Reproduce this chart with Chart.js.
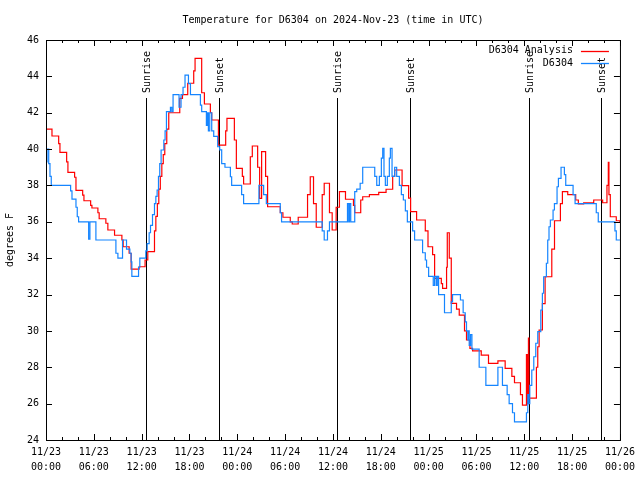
<!DOCTYPE html>
<html>
<head>
<meta charset="utf-8">
<script src="https://cdn.jsdelivr.net/npm/chart.js@4.4.0/dist/chart.umd.min.js"></script>
<style>
  html, body { margin: 0; padding: 0; background: #fff; }
</style>
</head>
<body>
<canvas id="tempChart" width="640" height="480"></canvas>
<script>
// hours since 11/23 00:00 UTC, temperature in F (values hold until the next point)
const analysisHours = [0, 0.75, 1.59, 1.75, 2.59, 2.75, 3.59, 3.76, 4.6, 4.76, 5.6, 5.76, 6.51, 6.67, 7.51, 7.76, 8.6, 9.52, 9.68, 10.43, 10.68, 11.68, 12.43, 12.77, 13.61, 13.78, 13.97, 14.15, 14.34, 14.53, 14.71, 14.9, 15.15, 15.4, 16.78, 17.12, 17.78, 18.53, 18.7, 19.53, 19.87, 20.62, 20.79, 21.63, 22.54, 22.7, 23.63, 23.88, 24.63, 24.79, 25.63, 25.88, 26.55, 26.8, 27.05, 27.55, 27.8, 29.39, 29.72, 30.64, 30.89, 31.64, 32.81, 33.15, 33.56, 33.9, 34.65, 34.9, 35.56, 35.9, 36.4, 36.81, 37.57, 38.57, 38.73, 39.48, 39.73, 40.57, 41.74, 42.66, 43.49, 43.74, 44.67, 45.49, 45.74, 46.49, 47.58, 47.92, 48.5, 48.75, 49.59, 49.75, 50.25, 50.34, 50.59, 50.84, 51.5, 51.84, 52.5, 52.75, 53.18, 53.51, 54.6, 55.51, 56.69, 57.6, 58.44, 58.77, 59.52, 59.77, 60.27, 60.33, 60.4, 60.46, 60.52, 60.58, 61.52, 61.69, 61.86, 62.27, 62.61, 63.45, 63.79, 64.53, 64.78, 65.45, 66.45, 66.78, 67.45, 68.71, 69.83, 70.37, 70.54, 70.62, 70.79, 71.54, 72];
const analysisTemps = [41.1, 40.72, 40.3, 39.82, 39.3, 38.72, 38.45, 37.73, 37.47, 37.16, 36.9, 36.76, 36.5, 36.17, 35.92, 35.55, 35.26, 35.0, 34.63, 34.27, 33.4, 33.53, 33.9, 34.36, 35.5, 36.3, 37.0, 37.8, 38.5, 39.2, 39.7, 40.3, 41.1, 42.0, 42.79, 43.0, 43.62, 44.3, 44.99, 43.1, 42.48, 42.0, 41.6, 40.22, 41.0, 41.69, 40.5, 38.94, 38.5, 38.08, 39.58, 40.17, 39.0, 37.29, 39.86, 38.5, 36.83, 36.5, 36.25, 36.0, 35.88, 36.25, 37.5, 38.48, 37.0, 35.7, 37.5, 38.12, 36.5, 35.55, 36.8, 37.66, 37.24, 36.9, 36.5, 37.2, 37.38, 37.5, 37.62, 37.79, 38.5, 38.85, 37.99, 37.3, 36.56, 36.1, 35.5, 34.63, 34.2, 32.89, 32.6, 32.34, 33.5, 35.4, 34.0, 31.51, 31.2, 30.87, 30.0, 29.5, 29.04, 28.9, 28.67, 28.21, 28.35, 27.94, 27.5, 27.15, 26.5, 25.92, 28.7, 26.0, 28.7, 26.0, 29.6, 26.3, 28.0, 29.13, 30.05, 31.5, 32.98, 34.5, 36.06, 37.0, 37.66, 37.5, 37.2, 36.98, 37.05, 37.2, 37.05, 38.0, 39.27, 37.5, 36.28, 36.06, 35.95];

const stationHours = [0, 0.13, 0.34, 0.5, 0.66, 3.09, 3.26, 3.76, 3.92, 4.09, 5.35, 5.51, 6.26, 8.77, 9.02, 9.6, 10.1, 10.52, 10.68, 10.77, 11.61, 11.77, 12.52, 12.69, 12.94, 13.11, 13.36, 13.61, 13.78, 13.94, 14.11, 14.27, 14.44, 14.78, 14.94, 15.11, 15.61, 15.78, 15.94, 16.69, 16.94, 17.19, 17.44, 17.87, 18.12, 19.37, 19.53, 20.12, 20.22, 20.37, 20.54, 20.79, 21.04, 21.54, 21.79, 22.04, 22.45, 23.13, 23.29, 24.54, 24.79, 26.71, 27.3, 27.64, 29.39, 29.55, 34.65, 34.9, 35.31, 35.56, 37.82, 37.98, 38.07, 38.23, 38.73, 38.98, 39.41, 39.73, 41.24, 41.49, 41.82, 42.07, 42.24, 42.4, 42.57, 42.82, 43.07, 43.2, 43.41, 43.74, 43.99, 44.33, 44.58, 44.83, 45.08, 45.33, 45.99, 46.24, 47.24, 47.58, 47.74, 48.0, 48.58, 48.75, 48.96, 49.09, 49.25, 49.99, 50.84, 51.0, 51.99, 52.33, 52.59, 52.75, 52.92, 53.0, 53.09, 53.26, 53.43, 54.34, 55.18, 56.69, 57.26, 57.85, 58.1, 58.52, 58.77, 60.27, 60.44, 60.52, 60.69, 60.94, 61.19, 61.44, 61.69, 62.07, 62.27, 62.43, 62.77, 62.94, 63.1, 63.27, 63.61, 63.78, 64.11, 64.28, 64.61, 65.03, 65.2, 66.12, 66.37, 69.03, 69.28, 71.37, 71.54, 72];
const stationTemps = [39.3, 40.0, 39.2, 38.5, 38.0, 37.7, 37.25, 36.8, 36.28, 36.0, 35.05, 36.0, 35.0, 34.27, 34.0, 35.0, 34.5, 34.27, 33.8, 33.0, 33.5, 34.0, 34.4, 34.8, 35.4, 35.8, 36.4, 37.0, 37.4, 37.75, 38.5, 39.2, 39.95, 40.5, 41.0, 42.06, 42.3, 42.06, 43.0, 42.3, 43.0, 43.4, 44.07, 43.6, 43.0, 42.42, 42.06, 41.3, 42.0, 41.0, 42.0, 41.0, 40.7, 40.13, 39.96, 39.2, 39.0, 38.48, 38.0, 37.5, 37.0, 38.0, 37.5, 37.0, 36.5, 36.0, 35.5, 35.0, 35.5, 36.0, 37.0, 36.0, 37.0, 36.0, 37.66, 37.8, 38.12, 39.0, 38.5, 38.0, 38.5, 39.5, 40.04, 38.5, 38.0, 38.5, 39.5, 40.04, 38.5, 39.0, 38.5, 38.0, 37.5, 37.2, 36.6, 36.0, 35.5, 35.0, 34.3, 33.9, 33.5, 33.0, 32.5, 33.0, 32.5, 33.0, 32.0, 31.0, 31.6, 32.0, 31.7, 31.0, 30.5, 30.0, 29.5, 30.0, 29.2, 29.8, 29.0, 28.0, 27.0, 28.0, 27.0, 26.5, 26.0, 25.5, 25.0, 25.5, 26.5, 26.0, 27.0, 27.85, 28.58, 29.32, 29.96, 31.15, 32.07, 32.98, 33.72, 35.0, 35.73, 36.1, 36.65, 37.0, 37.93, 38.39, 39.0, 38.6, 38.0, 37.5, 37.0, 36.5, 36.0, 35.5, 35.0, 35.0];

const sunriseHours = [12.5, 36.5, 60.55];
const sunsetHours = [21.7, 45.65, 69.65];
const startDay = 23;

const RED = '#ff0000';
const BLUE = '#1585ff';
const FONT = '10px "DejaVu Sans Mono", "Liberation Mono", monospace';
Chart.defaults.font.family = '"DejaVu Sans Mono", "Liberation Mono", monospace';
Chart.defaults.font.size = 10;
Chart.defaults.color = '#000';

function pad2(n) { return String(n).padStart(2, '0'); }

// gnuplot style frame: inward ticks, sun lines, legend, title
const gnuplotLook = {
  id: 'gnuplotLook',
  beforeDatasetsDraw(chart) {
    const { ctx, chartArea: a, scales: { x } } = chart;
    ctx.save();
    ctx.strokeStyle = '#000';
    ctx.lineWidth = 1;
    ctx.fillStyle = '#000';
    ctx.font = FONT;
    const marks = sunriseHours.map(h => [h, 'Sunrise']).concat(sunsetHours.map(h => [h, 'Sunset']));
    marks.forEach(([h, label]) => {
      const px = Math.round(x.getPixelForValue(h)) + 0.5;
      ctx.beginPath();
      ctx.moveTo(px, a.bottom);
      ctx.lineTo(px, a.top + 58);
      ctx.stroke();
      ctx.save();
      ctx.translate(px + 1, a.top + 53);
      ctx.rotate(-Math.PI / 2);
      ctx.textAlign = 'left';
      ctx.textBaseline = 'middle';
      ctx.fillText(label, 0, 0);
      ctx.restore();
    });
    ctx.restore();
  },
  afterDatasetsDraw(chart) {
    const { ctx, chartArea: a, scales: { x, y } } = chart;
    ctx.save();
    ctx.strokeStyle = '#000';
    ctx.lineWidth = 1;
    ctx.strokeRect(a.left + 0.5, a.top + 0.5, a.right - a.left, a.bottom - a.top);

    ctx.beginPath();
    for (let h = 0; h <= 72; h += 2) {
      const len = h % 6 === 0 ? 6 : 3;
      const px = Math.round(x.getPixelForValue(h)) + 0.5;
      ctx.moveTo(px, a.bottom); ctx.lineTo(px, a.bottom - len);
      ctx.moveTo(px, a.top); ctx.lineTo(px, a.top + len);
    }
    y.ticks.forEach(t => {
      const py = Math.round(y.getPixelForValue(t.value)) + 0.5;
      ctx.moveTo(a.left, py); ctx.lineTo(a.left + 6, py);
      ctx.moveTo(a.right, py); ctx.lineTo(a.right - 6, py);
    });
    ctx.stroke();

    // legend
    ctx.font = FONT;
    ctx.fillStyle = '#000';
    ctx.textAlign = 'right';
    ctx.textBaseline = 'middle';
    const keys = [['D6304 Analysis', RED], ['D6304', BLUE]];
    keys.forEach(([label, color], i) => {
      const ly = a.top + 10.5 + i * 12.5;
      ctx.fillText(label, a.right - 47, ly);
      ctx.strokeStyle = color;
      ctx.lineWidth = 1.3;
      ctx.beginPath();
      ctx.moveTo(a.right - 39, Math.round(ly) + 0.5);
      ctx.lineTo(a.right - 11, Math.round(ly) + 0.5);
      ctx.stroke();
    });

    // title
    ctx.textAlign = 'center';
    ctx.fillText('Temperature for D6304 on 2024-Nov-23 (time in UTC)', (a.left + a.right) / 2, 20);
    ctx.restore();
  }
};

const toPoints = (hs, ts) => hs.map((h, i) => ({ x: h, y: ts[i] }));

new Chart(document.getElementById('tempChart'), {
  type: 'line',
  data: {
    datasets: [
      {
        label: 'D6304',
        data: toPoints(stationHours, stationTemps),
        borderColor: BLUE,
        borderWidth: 1.2,
        pointRadius: 0,
        stepped: true,
        fill: false
      },
      {
        label: 'D6304 Analysis',
        data: toPoints(analysisHours, analysisTemps),
        borderColor: RED,
        borderWidth: 1.2,
        pointRadius: 0,
        stepped: true,
        fill: false
      }
    ]
  },
  options: {
    responsive: false,
    animation: false,
    layout: { padding: { top: 40, right: 19, left: 0, bottom: 0 } },
    plugins: {
      legend: { display: false },
      title: { display: false },
      tooltip: { enabled: false }
    },
    scales: {
      x: {
        type: 'linear',
        min: 0,
        max: 72,
        grid: { display: false, drawTicks: false },
        border: { display: false },
        ticks: {
          stepSize: 6,
          autoSkip: false,
          maxRotation: 0,
          minRotation: 0,
          padding: 5,
          font: { lineHeight: 1.5 },
          callback: v => ['11/' + (startDay + Math.floor(v / 24)), pad2(v % 24) + ':00']
        },
        afterFit: s => { s.height = 40; }
      },
      y: {
        min: 24,
        max: 46,
        grid: { display: false, drawTicks: false },
        border: { display: false },
        ticks: { stepSize: 2, padding: 7 },
        title: { display: true, text: 'degrees F', padding: { top: 4, bottom: 4 } },
        afterFit: s => { s.width = 46; }
      }
    }
  },
  plugins: [gnuplotLook]
});
</script>
</body>
</html>
